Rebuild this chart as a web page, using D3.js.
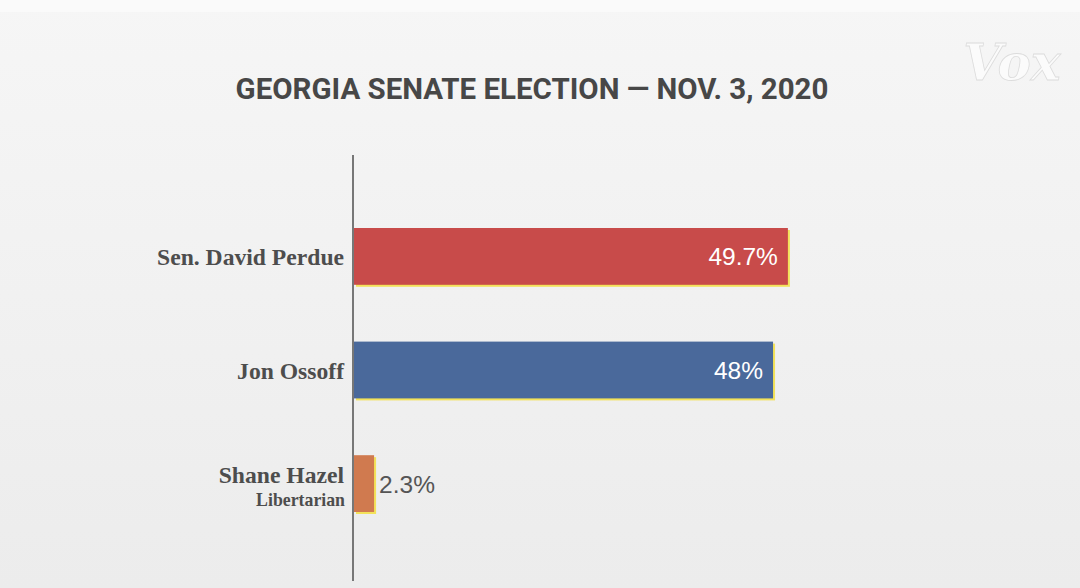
<!DOCTYPE html>
<html><head><meta charset="utf-8">
<script src="https://cdn.jsdelivr.net/npm/d3@7"></script>
<style>html,body{margin:0;padding:0;background:#f1f1f1;}svg{display:block;}</style>
</head><body>
<script>
const title = "GEORGIA SENATE ELECTION \u2014 NOV. 3, 2020";
const candidates = ["Sen. David Perdue", "Jon Ossoff", "Shane Hazel"];
const subtitles = ["", "", "Libertarian"];
const values = [49.7, 48, 2.3];
const valueLabels = ["49.7%", "48%", "2.3%"];
const colors = ["#c84b4a", "#4a699b", "#d07a4f"];

const W = 1080, H = 588;
const svg = d3.select("body").append("svg").attr("width", W).attr("height", H);
const defs = svg.append("defs");
const g = defs.append("linearGradient").attr("id","bg").attr("x1",0).attr("y1",0).attr("x2",0).attr("y2",1);
g.append("stop").attr("offset","0").attr("stop-color","#f6f6f6");
g.append("stop").attr("offset","1").attr("stop-color","#ececec");
svg.append("rect").attr("width",W).attr("height",H).attr("fill","url(#bg)");
svg.append("rect").attr("width",W).attr("height",12).attr("fill","#fafafa");

const x = d3.scaleLinear().domain([0, 50]).range([354, 790.5]);
const y = d3.scaleBand().domain(candidates).range([228, 512]).paddingInner(0.5).paddingOuter(0);

function fitSize(family, weight, size, str, w) {
  const tmp = svg.append("text").attr("font-family", family).attr("font-weight", weight)
    .attr("font-size", size).text(str);
  const len = tmp.node().getComputedTextLength();
  tmp.remove();
  return size * w / len;
}

// Vox logo
svg.append("text").attr("x", 1012).attr("y", 80).attr("text-anchor","middle")
  .attr("font-family","DejaVu Serif").attr("font-style","italic").attr("font-weight","bold")
  .attr("font-size", 50).attr("fill","#fbfbfb")
  .attr("stroke","#dcdcdc").attr("stroke-width",0.8).text("Vox");

// title
const titleSize = fitSize("Roboto", "bold", 28, title, 593);
svg.append("text").attr("x", 532).attr("y", 99).attr("text-anchor","middle")
  .attr("font-family","Roboto").attr("font-weight","bold").attr("font-size", titleSize)
  .attr("fill","#474747").text(title);

const labelSize = fitSize("Liberation Serif", "bold", 22, candidates[0], 187);
const subSize = fitSize("Liberation Serif", "bold", 15, subtitles[2], 89);

// bars
const bars = svg.append("g");
candidates.forEach((c, i) => {
  const y0 = y(c), bh = y.bandwidth();
  bars.append("rect").attr("x", x(0) + 2).attr("y", y0 + 2)
    .attr("width", x(values[i]) - x(0)).attr("height", bh).attr("fill", "#f3e25a");
  bars.append("rect").attr("x", x(0)).attr("y", y0)
    .attr("width", x(values[i]) - x(0)).attr("height", bh).attr("fill", colors[i]);
  const big = values[i] > 10;
  svg.append("text")
    .attr("x", big ? x(values[i]) - 10 : x(values[i]) + 5)
    .attr("y", y0 + bh / 2 + 9)
    .attr("text-anchor", big ? "end" : "start")
    .attr("font-family", "Liberation Sans").attr("font-size", 24.5)
    .attr("fill", big ? "#ffffff" : "#555555").text(valueLabels[i]);
  const hasSub = subtitles[i] !== "";
  svg.append("text").attr("x", 344).attr("y", y0 + bh / 2 + (hasSub ? -1 : 9))
    .attr("text-anchor","end").attr("font-family","Liberation Serif").attr("font-weight","bold")
    .attr("font-size", labelSize).attr("fill","#4d4d4d").text(c);
  if (hasSub) {
    svg.append("text").attr("x", 345).attr("y", y0 + bh / 2 + 22)
      .attr("text-anchor","end").attr("font-family","Liberation Serif").attr("font-weight","bold")
      .attr("font-size", subSize).attr("fill","#4d4d4d").text(subtitles[i]);
  }
});

// axis line
svg.append("line").attr("x1", 353).attr("x2", 353).attr("y1", 155).attr("y2", 581)
  .attr("stroke", "#777").attr("stroke-width", 2);
</script>
</body></html>
